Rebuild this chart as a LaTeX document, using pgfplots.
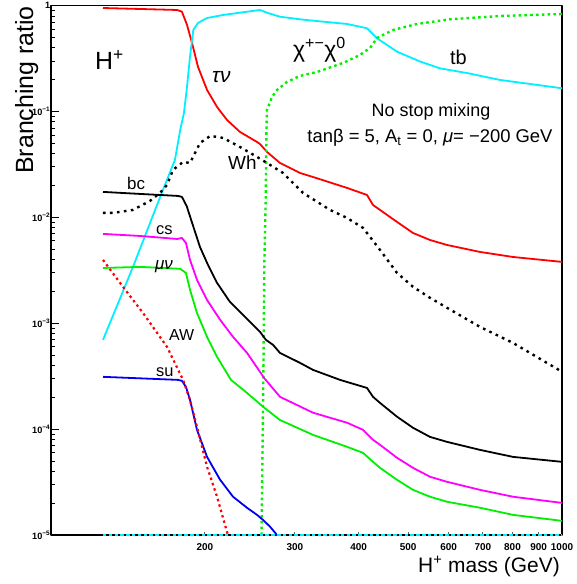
\documentclass[border=0pt]{standalone}
\usepackage{fontspec}
\setmainfont{Liberation Sans}
\usepackage{pgfplots}
\pgfplotsset{compat=1.18}
\definecolor{cyn}{RGB}{0,240,255}
\definecolor{grn}{RGB}{0,240,0}
\definecolor{mag}{RGB}{255,0,255}
\definecolor{rd}{RGB}{255,0,0}
\definecolor{bl}{RGB}{0,0,240}
\begin{document}
\begin{tikzpicture}[x=1bp,y=1bp]
\path[use as bounding box] (-51,-49) rectangle (526,535);
\begin{axis}[at={(0,0)}, anchor=south west, scale only axis,
  width=511bp, height=529.3bp,
  xmode=log, ymode=log, xmin=100, xmax=1000, ymin=1e-5, ymax=1,
  xtick={200,300,400,500,600,700,800,900,1000},
  xticklabels={200,300,400,500,600,700,800,900,1000},
  xminorticks=false,
  ytick={1e-5,1e-4,1e-3,1e-2,1e-1,1},
  yticklabels={10\textsuperscript{−5},10\textsuperscript{−4},10\textsuperscript{−3},10\textsuperscript{−2},10\textsuperscript{−1},1},
  tick pos=left, tick align=inside,
  major tick length=8bp, minor tick length=4bp,
  xtick style={/pgfplots/major tick length=3.5bp, draw=black!60},
  every tick/.style={line width=0.9bp},
  axis line style={line width=1.3bp},
  xticklabel style={font=\fontsize{10}{10}\selectfont\bfseries, yshift=-5bp},
  yticklabel style={font=\fontsize{9.2}{9.2}\selectfont\bfseries, inner sep=0.6bp},
  clip=false,
  line join=round,
]
% tau nu
\addplot[rd, line width=1.8bp] coordinates {
(126.4,0.951) (149.4,0.931) (176.5,0.911) (180.4,0.878) (184.6,0.657) (188.8,0.444)
(194.0,0.264) (202.0,0.160) (211.3,0.1105) (221.0,0.0833) (234.3,0.0642) (253.0,0.0516)
(256.4,0.0494) (264.6,0.0416) (280.6,0.0327) (307.0,0.0263) (325.6,0.0241) (379.6,0.0190)
(415.3,0.0163) (426.7,0.0131) (475.5,0.00906) (511.0,0.00713) (551.6,0.00612)
(595.7,0.00549) (691.0,0.00472) (801.7,0.00423) (1000,0.00380)};
% tb
\addplot[cyn, line width=1.8bp] coordinates {
(126.4,6.97e-4) (144.7,3.41e-3) (164.1,0.0163) (174.8,0.0349) (179.0,0.067) (182.0,0.0964)
(184.3,0.160) (187.1,0.331) (189.9,0.590) (194.0,0.687) (202.0,0.765) (217.1,0.817)
(234.3,0.859) (256.4,0.911) (264.6,0.859) (280.6,0.787) (307.0,0.744) (325.6,0.722)
(379.6,0.672) (415.3,0.612) (434.5,0.492) (475.5,0.368) (527.4,0.297) (577.1,0.256)
(652.0,0.231) (756.0,0.199) (1000,0.166)};
% chargino neutralino
\addplot[grn, line width=2.4bp, dash pattern=on 2.6bp off 3.2bp] coordinates {
(258.2,1e-5) (260.3,2.9e-4) (261.5,3.56e-3) (263.1,0.0146) (264.0,0.065) (264.6,0.1035)
(270.7,0.1374) (276.9,0.160) (289.6,0.1905) (307.0,0.217) (331.6,0.2366) (372.8,0.2877)
(402.4,0.342) (421.0,0.399) (434.5,0.495) (467.0,0.590) (520.3,0.672) (603.7,0.744)
(756.0,0.799) (1000,0.835)};
% Wh
\addplot[black, line width=2.4bp, dash pattern=on 2.6bp off 4.4bp] coordinates {
(126.4,0.01103) (132.2,0.01103) (144.7,0.01177) (156.2,0.01432) (163.4,0.01703)
(168.7,0.0203) (173.3,0.0281) (181.3,0.0334) (187.1,0.0327) (195.7,0.0505) (205.0,0.0589)
(217.1,0.0564) (234.3,0.0463) (253.0,0.0373) (264.6,0.0327) (284.4,0.0263) (311.3,0.01703)
(351.6,0.01177) (379.6,0.00989) (407.9,0.00796) (421.0,0.00655) (440.4,0.00493)
(475.5,0.00299) (511.0,0.00221) (551.6,0.00174) (595.7,0.00140) (691.0,9.24e-4)
(801.7,6.53e-4) (1000,3.48e-4)};
% bc
\addplot[black, line width=1.8bp] coordinates {
(126.4,0.01742) (149.4,0.01667) (177.2,0.01596) (180.4,0.01563) (184.3,0.0128)
(189.9,0.0082) (195.7,0.00526) (202.0,0.00372) (211.3,0.00241) (224.0,0.00159)
(241.8,0.00110) (256.4,8.30e-4) (263.4,6.97e-4) (272.0,6.25e-4) (280.6,5.25e-4)
(307.0,4.23e-4) (325.6,3.63e-4) (367.8,2.92e-4) (415.3,2.45e-4) (426.7,2.02e-4)
(440.4,1.77e-4) (475.5,1.31e-4) (511.0,1.03e-4) (551.6,8.45e-5) (595.7,7.58e-5)
(691.0,6.37e-5) (801.7,5.47e-5) (1000,4.91e-5)};
% cs
\addplot[mag, line width=1.8bp] coordinates {
(126.4,0.00699) (149.4,0.00668) (176.5,0.00626) (180.4,0.00640) (183.7,0.00574)
(187.1,0.00397) (193.1,0.00257) (202.0,0.00166) (214.2,0.00108) (227.1,7.44e-4)
(241.8,5.26e-4) (256.4,3.48e-4) (261.1,3.05e-4) (280.6,2.02e-4) (325.6,1.43e-4)
(379.6,1.15e-4) (407.9,9.86e-5) (426.7,7.93e-5) (440.4,7.11e-5) (475.5,5.36e-5)
(511.0,4.31e-5) (551.6,3.55e-5) (595.7,3.18e-5) (691.0,2.67e-5) (801.7,2.30e-5)
(1000,2.01e-5)};
% mu nu
\addplot[grn, line width=1.8bp] coordinates {
(126.4,0.00333) (149.4,0.00341) (179.0,0.00327) (183.7,0.00299) (187.1,0.00207)
(193.1,0.00125) (202.0,7.44e-4) (211.3,4.82e-4) (225.0,2.92e-4) (241.8,2.20e-4)
(259.9,1.63e-4) (280.6,1.22e-4) (325.6,8.83e-5) (379.6,6.81e-5) (407.9,5.97e-5)
(426.7,4.91e-5) (440.4,4.31e-5) (475.5,3.32e-5) (511.0,2.67e-5) (551.6,2.30e-5)
(595.7,2.06e-5) (691.0,1.81e-5) (801.7,1.55e-5) (1000,1.36e-5)};
% su
\addplot[bl, line width=1.8bp] coordinates {
(126.4,3.12e-4) (149.4,3.02e-4) (177.2,2.92e-4) (180.4,2.86e-4) (183.7,2.51e-4)
(187.1,1.89e-4) (193.1,9.84e-5) (202.0,5.47e-5) (214.2,3.33e-5) (227.1,2.30e-5)
(241.8,1.81e-5) (253.0,1.55e-5) (259.9,1.39e-5) (268.2,1.20e-5) (276.9,1.00e-5)};
% AW
\addplot[rd, line width=2.2bp, dash pattern=on 2.4bp off 3.2bp] coordinates {
(126.4,0.00397) (138.3,0.00221) (151.4,0.00125) (168.7,5.98e-4) (181.3,2.92e-4)
(187.1,1.89e-4) (193.1,1.05e-4) (202.0,4.40e-5) (211.3,2.30e-5) (221.0,1.07e-5)
(222.0,1.0e-5)};
% zero channel at the floor
\addplot[cyn, line width=2.4bp, dash pattern=on 3.5bp off 2.3bp] coordinates {
(126.4,1e-5) (1000,1e-5)};
\end{axis}
\begin{scope}[every node/.style={inner sep=0pt}]
\node[anchor=base west, font=\fontsize{25}{25}\selectfont] at (44,465) {H\textsuperscript{+}};
\node[anchor=base west, font=\fontsize{21}{21}\selectfont\itshape] at (161,452) {τν};
\node[anchor=base west, font=\fontsize{23}{23}\selectfont] at (242,477) {χ\textsuperscript{+−}χ\textsuperscript{0}};
\node[anchor=base west, font=\fontsize{20}{20}\selectfont] at (399,470) {tb};
\node[anchor=center, font=\fontsize{18}{18}\selectfont] at (380,423) {No stop mixing};
\node[anchor=center, font=\fontsize{18.5}{18.5}\selectfont] at (379,397) {tanβ = 5, A\textsubscript{t} = 0, \textit{μ}= −200 GeV};
\node[anchor=base west, font=\fontsize{19}{19}\selectfont] at (177,365) {Wh};
\node[anchor=base west, font=\fontsize{17}{17}\selectfont] at (76,345) {bc};
\node[anchor=base west, font=\fontsize{16.5}{16.5}\selectfont] at (105,300) {cs};
\node[anchor=base west, font=\fontsize{17}{17}\selectfont\itshape] at (104,265) {μν};
\node[anchor=base west, font=\fontsize{16}{16}\selectfont] at (118,194) {AW};
\node[anchor=base west, font=\fontsize{16.5}{16.5}\selectfont] at (105,158) {su};
\node[anchor=base east, font=\fontsize{21}{21}\selectfont] at (509,-37) {H\textsuperscript{+} mass (GeV)};
\node[anchor=base east, rotate=90, font=\fontsize{25}{25}\selectfont] at (-18,529) {Branching ratio};
\end{scope}
\end{tikzpicture}
\end{document}
